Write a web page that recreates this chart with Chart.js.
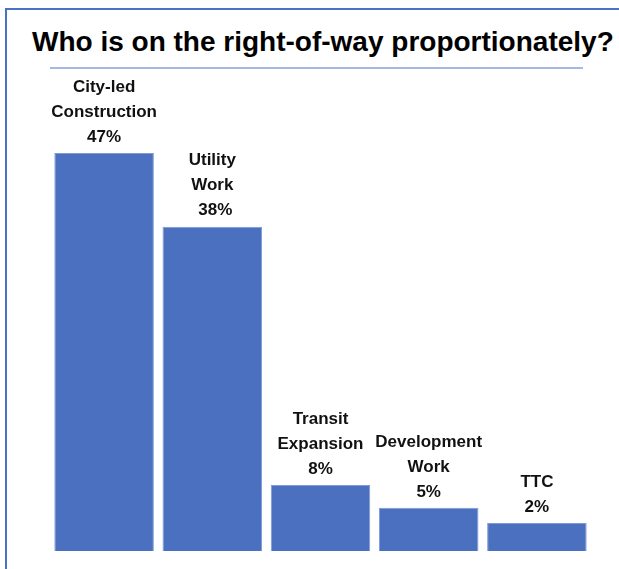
<!DOCTYPE html>
<html>
<head>
<meta charset="utf-8">
<script src="https://cdn.jsdelivr.net/npm/chart.js@4"></script>
<style>
  body { margin: 0; background: #fff; font-family: "Liberation Sans", Arial, sans-serif; }
  #wrap { position: relative; width: 619px; height: 569px; overflow: hidden; }
  #frame { position: absolute; left: 5px; top: 8px; right: -10px; bottom: -10px;
           border-top: 2px solid #4a72c4; border-left: 2px solid #4a72c4; }
  #title { position: absolute; left: 32px; top: 24px; font-size: 28px; font-weight: bold;
           color: #000; white-space: nowrap; line-height: 36px; }
  #rule { position: absolute; left: 50px; top: 67px; width: 533px; height: 2px;
          background: #a4b9e4; }
  canvas { position: absolute; left: 0; top: 0; }
</style>
</head>
<body>
<div id="wrap">
  <div id="frame"></div>
  <div id="title">Who is on the right-of-way proportionately?</div>
  <div id="rule"></div>
  <canvas id="chart" width="619" height="569"></canvas>
</div>
<script>
// categories, as they appear above the bars
const categories = ["City-led Construction", "Utility Work", "Transit Expansion", "Development Work", "TTC"];
const labelLines = [["City-led", "Construction"], ["Utility", "Work"], ["Transit", "Expansion"], ["Development", "Work"], ["TTC"]];
// bar heights (share of right-of-way, %)
const shares = [47, 38.3, 7.8, 5.1, 3.3];
// percentage text printed on the chart
const pctLabels = ["47%", "38%", "8%", "5%", "2%"];

// draw the stacked labels above every bar
const barLabels = {
    id: "barLabels",
    afterDatasetsDraw(chart) {
        const ctx = chart.ctx;
        const meta = chart.getDatasetMeta(0);
        ctx.save();
        ctx.font = "bold 17px 'Liberation Sans', Arial, sans-serif";
        ctx.fillStyle = "#111";
        ctx.textAlign = "center";
        ctx.textBaseline = "middle";
        meta.data.forEach((bar, i) => {
            const lines = labelLines[i].concat([pctLabels[i]]);
            const n = lines.length;
            lines.forEach((t, k) => {
                // the 38% line sits a little to the right in the original
                const dx = (i === 1 && k === n - 1) ? 3 : 0;
                ctx.fillText(t, bar.x + dx, bar.y - 16 - (n - 1 - k) * 25);
            });
        });
        ctx.restore();
    }
};

const ctx = document.getElementById("chart").getContext("2d");
new Chart(ctx, {
    type: "bar",
    data: {
        labels: categories,
        datasets: [{
            data: shares,
            backgroundColor: "#4a70bf",
            borderColor: "#7f9ad6",
            borderWidth: 1,
            barPercentage: 0.92,
            categoryPercentage: 1.0,
        }],
    },
    options: {
        responsive: false,
        animation: false,
        layout: { padding: { left: 50, right: 28, top: 153, bottom: 18 } },
        scales: {
            x: { display: false },
            y: { display: false, min: 0, max: 47 },
        },
        plugins: {
            legend: { display: false },
            tooltip: { enabled: false },
        },
    },
    plugins: [barLabels],
});
</script>
</body>
</html>
